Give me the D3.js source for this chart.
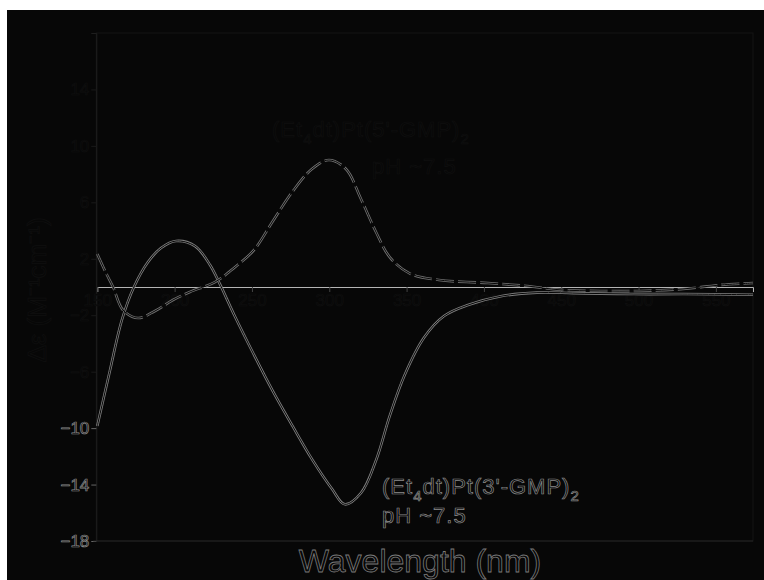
<!DOCTYPE html>
<html><head><meta charset="utf-8">
<script src="https://cdn.jsdelivr.net/npm/d3@7"></script>
<style>html,body{margin:0;padding:0;background:#fff;}svg{display:block;}</style>
</head><body>
<script>
// ---- data ----
const solidWl  = [150,158,166,173.7,182.8,191.2,200.9,213.2,222.9,229.3,238.4,251.3,263.6,276.5,288.8,301.7,310.1,320.5,330.2,339.2,348.9,361.2,374.2,389.7,411.7,434.3,465.3,497,528.7,574];
const solidVal = [-9.85,-6.0,-2.3,0,1.77,2.76,3.26,2.9,1.56,0.2,-1.95,-4.8,-7.4,-9.9,-12.2,-14.3,-15.4,-14.6,-12.3,-9.1,-6.2,-3.6,-2.06,-1.28,-0.64,-0.4,-0.45,-0.5,-0.5,-0.55];
const dashWl   = [150,155.6,160.2,166.6,176.3,187.3,198.9,209.9,226.1,238.4,251.3,263.6,276.5,288.8,299.8,310.8,320.5,330.2,339.2,352.2,370.9,402.6,427.8,449.2,475,500.9,528.7,552.6,574];
const dashVal  = [2.34,1.0,0,-1.63,-2.2,-1.7,-0.92,-0.35,0.35,1.35,2.62,4.68,6.8,8.36,9.0,8.36,6.24,3.9,2.1,0.95,0.5,0.28,0.07,-0.2,-0.28,-0.28,-0.14,0.14,0.28];
const xTicks = [150,200,250,300,350,400,450,500,550];
const yTicks = [-18,-14,-10,-6,-2,2,6,10,14];
const visibleYTicks = [-18,-14,-10];
const xLabel = "Wavelength (nm)";
const yLabel = "\u0394\u03b5 (M\u207b\u00b9cm\u207b\u00b9)";

const W = 764, H = 580, BG = "#070707", FAINT = "#0f0f0f";
const svg = d3.select("body").append("svg").attr("width", W).attr("height", H);
svg.append("rect").attr("width", W).attr("height", H).attr("fill", BG);
svg.append("rect").attr("width", W).attr("height", 10).attr("fill", "#fff");
svg.append("rect").attr("width", 7).attr("height", H).attr("fill", "#fff");

const x = d3.scaleLinear().domain([150, 574]).range([97.3, 753]);
const y = d3.scaleLinear().domain([-18, 18]).range([541, 33]);
const font = "'Liberation Sans', Arial, sans-serif";

// frame
svg.append("rect").attr("x", x(150) - 1).attr("y", y(18)).attr("width", x(574) - x(150) + 1)
  .attr("height", y(-18) - y(18)).attr("fill", "none").attr("stroke", "#151515");

// y axis
const yAxis = svg.append("g").attr("transform", `translate(${x(150) - 1},0)`)
  .call(d3.axisLeft(y).tickValues(yTicks).tickSize(5).tickFormat(d => d < 0 ? "\u2212" + Math.abs(d) : d));
yAxis.select(".domain").attr("stroke", "#1e1e1e");
yAxis.selectAll(".tick line").attr("stroke", d => visibleYTicks.includes(d) ? "#666" : "#1a1a1a");
yAxis.selectAll(".tick text").attr("font-family", font).attr("font-size", 17).attr("x", -7)
  .attr("fill", BG).attr("stroke", d => visibleYTicks.includes(d) ? "#8c8c8c" : FAINT).attr("stroke-width", 0.7);

// bottom axis line
svg.append("line").attr("x1", x(150) - 4).attr("x2", x(574)).attr("y1", y(-18)).attr("y2", y(-18))
  .attr("stroke", "#242424");

// zero line with x ticks
const xAxis = svg.append("g").attr("transform", `translate(0,${y(0)})`)
  .call(d3.axisBottom(x).tickValues(xTicks).tickSize(5).tickFormat(d3.format("d")));
xAxis.select(".domain").attr("stroke", "#b4b4b4").attr("stroke-width", 1);
xAxis.selectAll(".tick line").attr("stroke", "#444");
xAxis.selectAll(".tick text").attr("font-family", font).attr("font-size", 17).attr("y", 7)
  .attr("fill", BG).attr("stroke", FAINT).attr("stroke-width", 0.7);

// curves (outlined double-line look)
const line = d3.line().curve(d3.curveCatmullRom.alpha(0.5)).x(d => x(d[0])).y(d => y(d[1]));
const solid = solidWl.map((w, i) => [w, solidVal[i]]);
const dashed = dashWl.map((w, i) => [w, dashVal[i]]);
svg.append("path").attr("d", line(solid)).attr("fill", "none").attr("stroke", "#7e7e7e").attr("stroke-width", 2.6);
svg.append("path").attr("d", line(solid)).attr("fill", "none").attr("stroke", BG).attr("stroke-width", 1);
svg.append("path").attr("d", line(dashed)).attr("fill", "none").attr("stroke", "#707070").attr("stroke-width", 2.6)
  .attr("stroke-dasharray", "18,4");
svg.append("path").attr("d", line(dashed)).attr("fill", "none").attr("stroke", BG).attr("stroke-width", 1);

// annotations
function label(xp, yp, size, color, parts, ls) {
  const t = svg.append("text").attr("x", xp).attr("y", yp).attr("font-family", font).attr("font-size", size)
    .attr("fill", BG).attr("stroke", color).attr("stroke-width", 0.7).attr("letter-spacing", ls || 0);
  parts.forEach(p => {
    const s = t.append("tspan").text(p.t);
    if (p.sub) s.attr("font-size", size * 0.68).attr("dy", size * 0.3);
    if (p.back) s.attr("dy", -size * 0.3);
  });
  return t;
}
label(382, 494, 22, "#8c8c8c", [{t:"(Et"},{t:"4",sub:1},{t:"dt)Pt(3'-GMP)",back:1},{t:"2",sub:1}], 1);
label(382, 523, 22, "#8c8c8c", [{t:"pH ~7.5"}], 1);
label(272, 137, 22, FAINT, [{t:"(Et"},{t:"4",sub:1},{t:"dt)Pt(5'-GMP)",back:1},{t:"2",sub:1}], 1);
label(372, 174, 22, FAINT, [{t:"pH ~7.5"}], 1);

svg.append("text").attr("x", 420).attr("y", 572).attr("text-anchor", "middle").attr("font-family", font)
  .attr("font-size", 32).attr("fill", BG).attr("stroke", "#7a7a7a").attr("stroke-width", 0.8).text(xLabel);
svg.append("text").attr("transform", "translate(46,290) rotate(-90)").attr("text-anchor", "middle")
  .attr("font-family", font).attr("font-size", 26).attr("fill", BG).attr("stroke", FAINT).attr("stroke-width", 0.7)
  .text(yLabel);
</script>
</body></html>
